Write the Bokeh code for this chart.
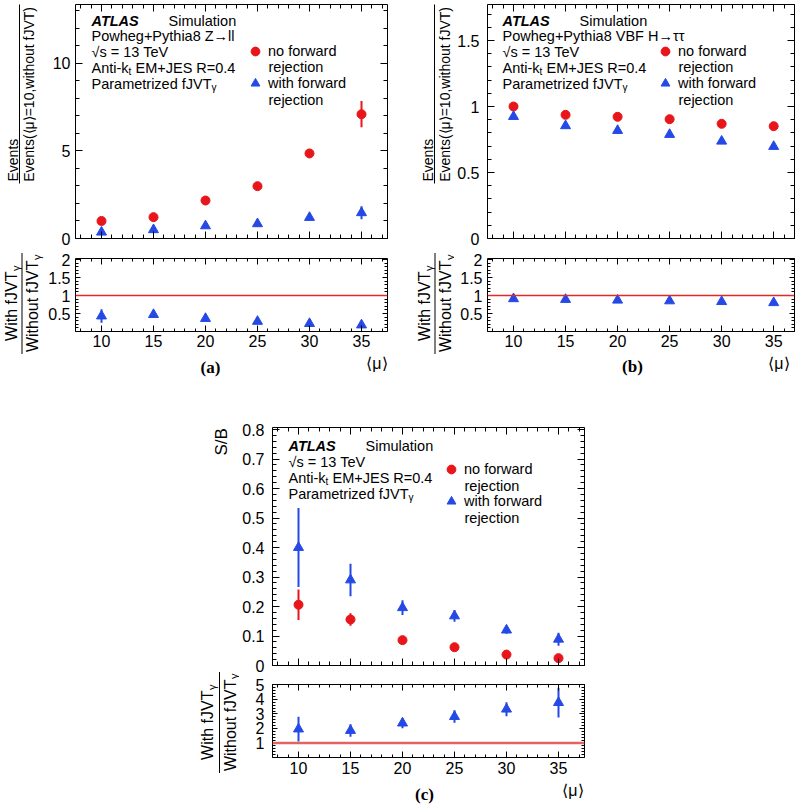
import numpy as np
from bokeh.plotting import figure
from bokeh.models import (Range1d, FixedTicker, LinearAxis, Label, BoxAnnotation,
                          Legend, LegendItem, ColumnDataSource, Span, Spacer)
from bokeh.layouts import row, column
from bokeh.embed import file_html
from bokeh.resources import INLINE

# ---------------- data ----------------
mu = [10, 15, 20, 25, 30, 35]

# (a) Powheg+Pythia8 Z->ll
a_no = [1.00, 1.22, 2.17, 2.99, 4.86, 7.10]
a_no_err = [0.06, 0.08, 0.10, 0.12, 0.25, 0.75]
a_with = [0.36, 0.50, 0.72, 0.84, 1.20, 1.47]
a_with_err = [0.08, 0.08, 0.09, 0.10, 0.13, 0.37]
a_ratio = [0.43, 0.47, 0.36, 0.28, 0.22, 0.18]
a_ratio_err = [0.19, 0.05, 0.04, 0.03, 0.03, 0.03]

# (b) Powheg+Pythia8 VBF H->tautau
b_no = [1.000, 0.937, 0.922, 0.904, 0.869, 0.851]
b_no_err = [0.005, 0.005, 0.005, 0.005, 0.005, 0.005]
b_with = [0.924, 0.854, 0.818, 0.788, 0.737, 0.697]
b_with_err = [0.005, 0.005, 0.005, 0.005, 0.005, 0.005]
b_ratio = [0.91, 0.89, 0.87, 0.85, 0.83, 0.80]
b_ratio_err = [0.02, 0.02, 0.02, 0.02, 0.02, 0.02]

# (c) S/B
c_no = [0.206, 0.156, 0.086, 0.062, 0.037, 0.025]
c_no_err = [0.052, 0.021, 0.008, 0.006, 0.005, 0.004]
c_with = [0.400, 0.290, 0.196, 0.168, 0.120, 0.089]
c_with_err = [0.134, 0.055, 0.025, 0.020, 0.012, 0.022]
c_ratio = [1.96, 1.86, 2.37, 2.82, 3.33, 3.78]
c_ratio_err = [0.85, 0.43, 0.35, 0.43, 0.48, 1.03]

# ticks
x_major = [10, 15, 20, 25, 30, 35]
x_labels = ["10", "15", "20", "25", "30", "35"]
x_minor = list(range(8, 38))
a_main_ticks = [0, 5, 10]
a_main_labels = ["0", "5", "10"]
a_main_minor = list(range(0, 14))
b_main_ticks = [0, 0.5, 1, 1.5]
b_main_labels = ["0", "0.5", "1", "1.5"]
b_main_minor = [i / 10 for i in range(0, 18)]
ab_ratio_ticks = [0.5, 1, 1.5, 2]
ab_ratio_labels = ["0.5", "1", "1.5", "2"]
ab_ratio_minor = [i / 10 for i in range(0, 21)]
c_main_ticks = [0, 0.1, 0.2, 0.3, 0.4, 0.5, 0.6, 0.7, 0.8]
c_main_labels = ["0", "0.1", "0.2", "0.3", "0.4", "0.5", "0.6", "0.7", "0.8"]
c_main_minor = [i / 50 for i in range(0, 41)]
c_ratio_ticks = [1, 2, 3, 4, 5]
c_ratio_labels = ["1", "2", "3", "4", "5"]
c_ratio_minor = [i / 5 for i in range(0, 26)]

RED = "#e8161b"
BLUE = "#2449e6"
FONT = "Liberation Sans"

# approximate advance widths (in em) of the rotated title strings, used to place them
EM = {"Events": 3.057, "Events(\u27e8\u03bc\u27e9=10,without fJVT)": 12.44,
      "With fJVT": 4.334, "Without fJVT": 5.724, "S/B": 1.612, "\u03b3": 0.5}


def style_axis(ax, ticks, minor, labels, standoff, major_len, minor_len):
    ax.ticker = FixedTicker(ticks=ticks, minor_ticks=minor)
    ax.axis_line_color = None
    ax.major_tick_in = major_len
    ax.major_tick_out = 0
    ax.minor_tick_in = minor_len
    ax.minor_tick_out = 0
    ax.major_tick_line_color = "black"
    ax.minor_tick_line_color = "black"
    if labels is not None:
        ax.major_label_overrides = dict(zip(ticks, labels))
        ax.major_label_text_font = FONT
        ax.major_label_text_font_size = "16px"
        ax.major_label_text_color = "black"
        ax.major_label_standoff = standoff
    else:
        ax.major_label_overrides = {t: "" for t in ticks}
        ax.major_label_text_font_size = "0px"
        ax.major_label_standoff = 0


def make_fig(fw, fh, xr, yr, borders, yticks, yminor, ylabels, ystand,
             xlabels, xstand, ylen, xlen):
    p = figure(frame_width=fw, frame_height=fh, x_range=Range1d(*xr), y_range=Range1d(*yr),
               output_backend="svg", toolbar_location=None,
               min_border_left=borders[0], min_border_right=borders[1],
               min_border_top=borders[2], min_border_bottom=borders[3])
    p.xgrid.grid_line_color = None
    p.ygrid.grid_line_color = None
    p.outline_line_color = "black"
    p.outline_line_width = 1
    p.background_fill_color = "white"
    p.border_fill_color = "white"
    style_axis(p.yaxis[0], yticks, yminor, ylabels, ystand, ylen[0], ylen[1])
    style_axis(p.xaxis[0], x_major, x_minor, xlabels, xstand, xlen[0], xlen[1])
    r_ax = LinearAxis()
    style_axis(r_ax, yticks, yminor, None, 0, ylen[0], ylen[1])
    p.add_layout(r_ax, "right")
    t_ax = LinearAxis()
    style_axis(t_ax, x_major, x_minor, None, 0, xlen[0], xlen[1])
    p.add_layout(t_ax, "above")
    return p


def canvas(x0, x1, y0, y1, left=0, right=0, top=0, bottom=0):
    """Blank area that holds texts outside the plot frames (coords: page x, minus page y)."""
    c = figure(frame_width=x1 - x0, frame_height=y1 - y0,
               x_range=Range1d(x0, x1), y_range=Range1d(-y1, -y0),
               output_backend="svg", toolbar_location=None,
               x_axis_location=None, y_axis_location=None,
               min_border_left=left, min_border_right=right,
               min_border_top=top, min_border_bottom=bottom)
    c.outline_line_color = None
    c.background_fill_color = "white"
    c.border_fill_color = "white"
    for g in c.grid:
        g.visible = False
    return c


def draw_series(p, y, err, color, marker, size):
    y = np.array(y, dtype=float)
    e = np.array(err, dtype=float)
    src = ColumnDataSource(dict(x=mu, y=y, lo=y - e, hi=y + e))
    p.segment(x0="x", y0="lo", x1="x", y1="hi", source=src, line_color=color, line_width=2)
    return p.scatter(x="x", y="y", source=src, marker=marker, size=size,
                     fill_color=color, line_color=color)


def txt(p, fr, px, py, text, size="14.5px", style="normal", align="left",
        font=FONT):
    """Text at page pixel (px, py), placed relative to the plot frame (left, bottom)."""
    L, B = fr
    p.add_layout(Label(x=px - L, y=B - py, x_units="screen", y_units="screen", text=text,
                       text_font=font, text_font_size=size, text_font_style=style,
                       text_align=align, text_baseline="middle", text_color="black"))


def ctxt(c, px, py, text, size="14px", style="normal", align="left", angle=0, font=FONT):
    c.add_layout(Label(x=px, y=-py, text=text, text_font=font, text_font_size=size,
                       text_font_style=style, text_align=align, text_baseline="middle",
                       angle=angle, angle_units="deg", text_color="black"))


def rot(c, xc, ystart, text, size, sub=False):
    """Vertical text reading upward, starting at page y = ystart."""
    length = EM[text] * size
    ctxt(c, xc, ystart - length / 2, text, size=f"{size}px", align="center", angle=90)
    if sub:
        g = EM["\u03b3"] * 11
        ctxt(c, xc + 4, ystart - length - g / 2 - 0.5, "\u03b3", size="11px",
             align="center", angle=90)


def cbar(c, px, py0, py1):
    c.add_layout(BoxAnnotation(left=px - 0.5, right=px + 0.5, top=-py0, bottom=-py1,
                               fill_color="black", fill_alpha=1.0, line_color=None))


def legend(p, fr, r_no, r_with, mx, y1, tx):
    L, B = fr
    gw = 22
    top = y1 - gw / 2
    bottom = top + gw + 10 + gw
    leg = Legend(items=[LegendItem(label="no forward", renderers=[r_no]),
                        LegendItem(label="with forward", renderers=[r_with])],
                 location=(mx - gw / 2 - L, B - bottom), orientation="vertical",
                 padding=0, margin=0, spacing=10, glyph_width=gw, glyph_height=gw,
                 label_height=gw, label_standoff=int(round(tx - (mx + gw / 2))),
                 border_line_color=None, background_fill_alpha=0,
                 label_text_font=FONT, label_text_font_size="14.5px",
                 label_text_color="black")
    p.add_layout(leg)
    txt(p, fr, tx, y1 + 16, "rejection")
    txt(p, fr, tx, y1 + 48.6, "rejection")


def atlas_block(p, fr, x0, y0, process):
    ys = y0
    txt(p, fr, x0, ys, "ATLAS", style="bold italic")
    txt(p, fr, x0 + 77, ys, "Simulation")
    if process is not None:
        ys += 15
        txt(p, fr, x0, ys, process)
    ys += 16
    txt(p, fr, x0, ys, "\u221as = 13 TeV")
    ys += 16
    txt(p, fr, x0, ys, "Anti-k")
    txt(p, fr, x0 + 37, ys + 4, "t", size="10px")
    txt(p, fr, x0 + 44, ys, "EM+JES R=0.4")
    ys += 16
    txt(p, fr, x0, ys, "Parametrized fJVT")
    txt(p, fr, x0 + 120, ys + 4, "\u03b3", size="10px")


def main_ytitle(c, xn, xbar, xd, ybot):
    rot(c, xn, ybot, "Events", 14)
    cbar(c, xbar, 3, ybot + 2)
    rot(c, xd, ybot, "Events(\u27e8\u03bc\u27e9=10,without fJVT)", 14)


def ratio_ytitle(c, xn, xbar, xd, yc):
    ln = EM["With fJVT"] * 16 + 5.5
    rot(c, xn, yc + ln / 2, "With fJVT", 16, sub=True)
    ld = EM["Without fJVT"] * 16 + 5.5
    rot(c, xd, yc + ld / 2, "Without fJVT", 16, sub=True)
    cbar(c, xbar, yc - ld / 2 - 2, yc + ld / 2 + 2)


def caption(c, xr_edge, y, cap, capx, capy):
    ctxt(c, xr_edge, y, "\u27e8\u03bc\u27e9", size="16px", align="right")
    ctxt(c, capx, capy, cap, size="17px", style="bold", align="center",
         font="Liberation Serif")


# ---------------- panel (a) ----------------
FA = (73, 238)
pa = make_fig(312, 234, (7.5, 37.5), (0, 13.37), (28, 15, 4, 10),
              a_main_ticks, a_main_minor, a_main_labels, 5, None, 0, (7, 4), (7, 4))
draw_series(pa, a_no, a_no_err, RED, "circle", 9)
draw_series(pa, a_with, a_with_err, BLUE, "triangle", 10)
atlas_block(pa, FA, 89, 20, "Powheg+Pythia8 Z\u2192ll")
legend(pa, FA, pa.renderers[1], pa.renderers[3], 253, 50.7, 266)

pa2 = make_fig(312, 73, (7.5, 37.5), (0, 2.03), (28, 15, 10, 22),
               ab_ratio_ticks, ab_ratio_minor, ab_ratio_labels, 5, x_labels, 3, (5, 3), (6, 3))
pa2.add_layout(Span(location=1, dimension="width", line_color="#e22a2a", line_width=1.5))
draw_series(pa2, a_ratio, a_ratio_err, BLUE, "triangle", 10)

tA = canvas(0, 45, 4, 380, top=4)
main_ytitle(tA, 12, 19, 28.5, 181)
ratio_ytitle(tA, 11, 21.5, 32, 303)
capA = canvas(73, 385, 353, 380, left=28, right=15)
caption(capA, 385, 363, "(a)", 208, 367)

# ---------------- panel (b) ----------------
FB = (485, 238)
pb = make_fig(307, 234, (7.5, 37.0), (0, 1.773), (33, 4, 4, 10),
              b_main_ticks, b_main_minor, b_main_labels, 8, None, 0, (7, 4), (7, 4))
draw_series(pb, b_no, b_no_err, RED, "circle", 9)
draw_series(pb, b_with, b_with_err, BLUE, "triangle", 10)
atlas_block(pb, FB, 500, 20, "Powheg+Pythia8 VBF H\u2192\u03c4\u03c4")
legend(pb, FB, pb.renderers[1], pb.renderers[3], 663, 50.7, 676)

pb2 = make_fig(307, 73, (7.5, 37.0), (0, 2.03), (33, 4, 10, 22),
               ab_ratio_ticks, ab_ratio_minor, ab_ratio_labels, 5, x_labels, 3, (5, 3), (6, 3))
pb2.add_layout(Span(location=1, dimension="width", line_color="#e22a2a", line_width=1.5))
draw_series(pb2, b_ratio, b_ratio_err, BLUE, "triangle", 10)

tB = canvas(400, 452, 4, 380, top=4)
main_ytitle(tB, 425, 432, 442, 181)
ratio_ytitle(tB, 422, 432.5, 443, 303)
capB = canvas(485, 792, 353, 380, left=33, right=4)
caption(capB, 787, 363, "(b)", 630, 366)

# ---------------- panel (c) ----------------
FC = (271, 665)
pc = make_fig(312, 238, (7.5, 37.5), (0, 0.807), (32, 15, 47, 10),
              c_main_ticks, c_main_minor, c_main_labels, 8, None, 0, (7, 4), (7, 4))
draw_series(pc, c_no, c_no_err, RED, "circle", 9)
draw_series(pc, c_with, c_with_err, BLUE, "triangle", 10)
atlas_block(pc, FC, 287, 445, None)
legend(pc, FC, pc.renderers[1], pc.renderers[3], 450, 469, 463)

pc2 = make_fig(312, 73, (7.5, 37.5), (0, 5.03), (32, 15, 9, 22),
               c_ratio_ticks, c_ratio_minor, c_ratio_labels, 8, x_labels, 4, (5, 3), (6, 3))
pc2.add_layout(Span(location=1, dimension="width", line_color="#e06464", line_width=2.5))
draw_series(pc2, c_ratio, c_ratio_err, BLUE, "triangle", 10)

tC = canvas(188, 239, 427, 804, top=47)
rot(tC, 221, 455, "S/B", 17)
ratio_ytitle(tC, 207, 219, 229.5, 722)
capC = canvas(271, 583, 779, 804, left=32, right=15)
caption(capC, 582, 790, "(c)", 423, 794)

layout = column(
    row(row(tA, column(pa, pa2, capA)),
        row(tB, column(pb, pb2, capB))),
    row(Spacer(width=188, height=10), tC, column(pc, pc2, capC)))

open("out.html", "w").write(file_html(layout, INLINE))
